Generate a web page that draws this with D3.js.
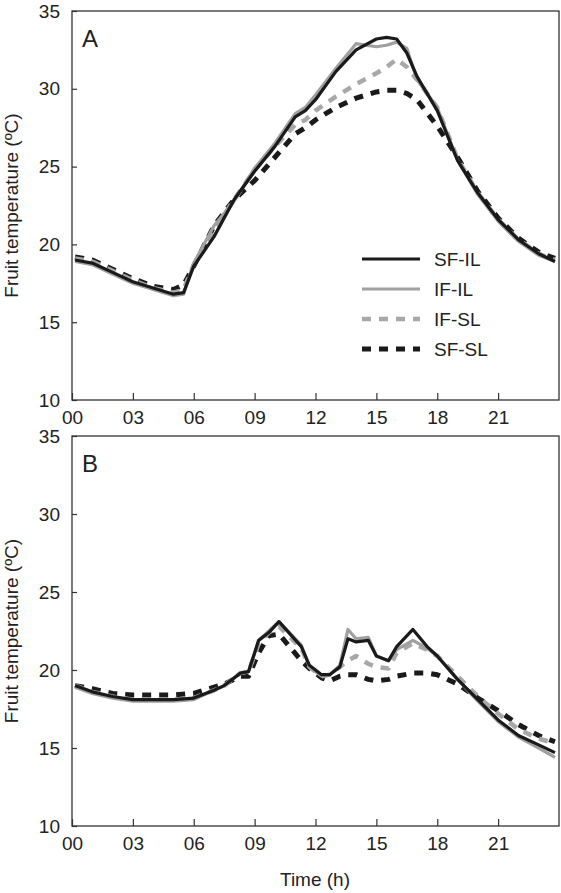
<!DOCTYPE html>
<html><head><meta charset="utf-8">
<script src="https://cdn.jsdelivr.net/npm/d3@7"></script>
<style>body{margin:0;background:#fff}text{font-family:"Liberation Sans",Arial,sans-serif;fill:#222}</style>
</head><body><svg id="c" width="561" height="893"></svg>
<script>
// panel A
const hA = [0.15,1,2,3,4,5,5.5,6,7,8,9,10,11,11.5,12,13,14,15,15.5,16,16.5,17,18,19,20,21,22,23,23.8];
const aSFIL = [19.0,18.8,18.2,17.6,17.2,16.8,16.9,18.6,20.5,22.9,24.7,26.3,28.2,28.6,29.3,31.1,32.5,33.2,33.3,33.2,32.3,30.8,28.6,25.4,23.3,21.6,20.3,19.4,18.9];
const aIFIL = [18.9,18.7,18.1,17.5,17.1,16.7,16.8,18.8,21.2,22.8,24.9,26.5,28.4,28.8,29.6,31.3,32.9,32.7,32.8,33.0,32.6,30.6,28.8,25.4,23.2,21.5,20.2,19.3,18.9];
const aIFSL = [19.1,18.9,18.3,17.7,17.2,16.9,17.1,18.7,20.9,22.9,24.8,26.3,27.7,28.0,28.6,29.5,30.3,31.0,31.4,31.9,31.4,30.6,28.8,25.5,23.3,21.6,20.3,19.4,19.0];
const aSFSL = [19.2,19.0,18.4,17.8,17.3,17.1,17.4,18.6,21.2,22.9,24.1,25.6,27.1,27.5,28.0,28.8,29.4,29.8,29.9,29.9,29.7,29.3,27.6,25.6,23.4,21.7,20.4,19.5,19.1];
// panel B
const hB = [0.15,1,2,3,4,5,6,7,7.5,8.3,8.7,9.2,9.7,10.2,11.3,11.7,12.3,12.7,13.2,13.6,14,14.6,15,15.6,16,16.8,17.5,18,19,20,21,22,23,23.8];
const bSFIL = [19.0,18.6,18.3,18.1,18.1,18.1,18.2,18.7,19.0,19.8,19.9,21.9,22.4,23.1,21.5,20.3,19.7,19.7,20.2,22.0,21.8,21.9,20.9,20.6,21.5,22.6,21.5,20.9,19.4,18.1,16.8,15.8,15.2,14.7];
const bIFIL = [18.9,18.5,18.2,18.0,18.0,18.0,18.1,18.7,19.0,19.8,19.9,21.9,22.5,23.1,21.6,20.2,19.6,19.7,20.3,22.6,22.0,22.1,20.9,20.6,21.3,21.9,21.4,20.9,19.4,18.0,16.7,15.7,15.0,14.4];
const bIFSL = [19.0,18.6,18.3,18.1,18.1,18.1,18.2,18.7,19.0,19.8,19.9,21.7,22.4,22.8,21.4,20.2,19.6,19.7,20.2,20.6,20.9,20.4,20.2,20.1,21.1,21.7,21.3,20.9,19.6,18.3,17.2,16.2,15.6,15.3];
const bSFSL = [19.0,18.8,18.5,18.4,18.4,18.4,18.5,18.9,19.1,19.6,19.6,21.1,22.2,22.3,20.6,20.1,19.5,19.3,19.6,19.7,19.7,19.4,19.3,19.4,19.6,19.8,19.8,19.7,19.1,18.2,17.4,16.5,15.8,15.4];
const names = ["SF-IL","IF-IL","IF-SL","SF-SL"];
const styles = [
  {c:"#1a1a1a",w:3.2,d:null},
  {c:"#a0a0a0",w:3.2,d:null},
  {c:"#a8a8a8",w:4.5,d:"9,8"},
  {c:"#1a1a1a",w:5,d:"9,8"}];
const xTicks = [0,3,6,9,12,15,18,21];
const yTicks = [10,15,20,25,30,35];

const svg = d3.select("#c");
const x = d3.scaleLinear().domain([0,24]).range([72,559]);
const fs = "19px";

function panel(top, bottom, hrs, series, label, legend){
  const y = d3.scaleLinear().domain([10,35]).range([bottom, top]);
  const g = svg.append("g");
  g.append("rect").attr("x",72).attr("y",top).attr("width",487).attr("height",bottom-top)
    .attr("fill","none").attr("stroke","#333").attr("stroke-width",1.3);
  g.append("g").attr("transform",`translate(0,${bottom})`)
    .call(d3.axisBottom(x).tickValues(xTicks).tickSize(-7).tickFormat(d=>d3.format("02d")(d)))
    .call(a=>{a.attr("font-size",null).attr("font-family",null);a.select(".domain").remove();
      a.selectAll("line").attr("stroke","#333").attr("stroke-width",1.2);
      a.selectAll("text").attr("dy","1.1em").style("font-size",fs);});
  g.append("g").attr("transform","translate(72,0)")
    .call(d3.axisLeft(y).tickValues(yTicks).tickSize(-5).tickPadding(12))
    .call(a=>{a.attr("font-size",null).attr("font-family",null);a.select(".domain").remove();
      a.selectAll("line").attr("stroke","#333").attr("stroke-width",1.2);
      a.selectAll("text").style("font-size",fs);});
  const line = d3.line().x((d,i)=>x(hrs[i])).y(d=>y(d));
  [3,2,1,0].forEach(k=>{
    g.append("path").attr("d",line(series[k])).attr("fill","none")
      .attr("stroke",styles[k].c).attr("stroke-width",styles[k].w)
      .attr("stroke-dasharray",styles[k].d).attr("stroke-linejoin","round");
  });
  g.append("text").attr("x",82).attr("y",top+36).text(label).style("font-size","24px");
  g.append("text").attr("transform",`translate(18,${(top+bottom)/2}) rotate(-90)`)
    .attr("text-anchor","middle").style("font-size",fs).text("Fruit  temperature (ºC)");
  if(legend){
    names.forEach((n,k)=>{
      const yy = 259 + k*30;
      g.append("line").attr("x1",362).attr("x2",420).attr("y1",yy).attr("y2",yy)
        .attr("stroke",styles[k].c).attr("stroke-width",styles[k].w).attr("stroke-dasharray",styles[k].d);
      g.append("text").attr("x",434).attr("y",yy+7).style("font-size",fs).text(n);
    });
  }
}
panel(11,400,hA,[aSFIL,aIFIL,aIFSL,aSFSL],"A",true);
panel(436,826,hB,[bSFIL,bIFIL,bIFSL,bSFSL],"B",false);
svg.append("text").attr("x",315).attr("y",886).attr("text-anchor","middle").style("font-size",fs).text("Time (h)");
</script></body></html>
